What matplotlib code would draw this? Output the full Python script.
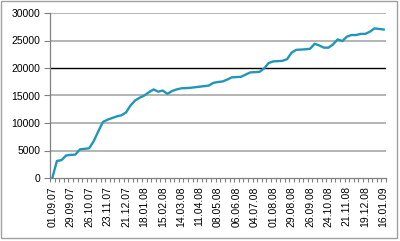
import matplotlib
matplotlib.use("Agg")
import matplotlib.pyplot as plt
from matplotlib.patches import Rectangle

# Weekly balance, one point per week (category axis), label every 4th week
tick_labels = ["01.09.07", "29.09.07", "26.10.07", "23.11.07", "21.12.07",
               "18.01.08", "15.02.08", "14.03.08", "11.04.08", "08.05.08",
               "06.06.08", "04.07.08", "01.08.08", "29.08.08", "26.09.08",
               "24.10.08", "21.11.08", "19.12.08", "16.01.09"]
values = [0, 3100, 3250, 4100, 4200, 4250, 5200, 5300, 5400, 6700,
          8500, 10200, 10600, 10900, 11200, 11400, 11900, 13200, 14100, 14600,
          15000, 15600, 16100, 15700, 15900, 15300, 15800, 16100, 16300, 16350,
          16400, 16500, 16600, 16700, 16800, 17300, 17450, 17550, 17900, 18300,
          18350, 18400, 18800, 19200, 19250, 19300, 19900, 20900, 21200, 21250,
          21300, 21600, 22800, 23300, 23350, 23400, 23500, 24400, 24100, 23700,
          23700, 24300, 25200, 24900, 25700, 26000, 26000, 26200, 26200, 26600,
          27200, 27100, 27000]
label_step = 4
yticks = [0, 5000, 10000, 15000, 20000, 25000, 30000]

plt.rcParams['font.family'] = ['Liberation Sans', 'DejaVu Sans']

fig = plt.figure(figsize=(4.0, 2.41), dpi=100)
fig.patches.append(Rectangle((0.003, 0.012), 0.99, 0.982, transform=fig.transFigure,
                             fill=False, edgecolor='#a0a0a0', linewidth=1.0))
ax = fig.add_axes([50 / 400, 1 - 178 / 241, 336 / 400, 165 / 241])

x = list(range(len(values)))
ax.plot(x, values, color='#2196b9', linewidth=1.7, solid_joinstyle='round', zorder=3)

# gridlines (20000 drawn black as in the original)
for v in yticks[1:]:
    if v == 20000:
        ax.axhline(v, color='black', linewidth=1.0, zorder=2)
    else:
        ax.axhline(v, color='#a8a8a8', linewidth=1.2, zorder=1)

ax.set_xlim(-0.5, len(values) - 0.5)
ax.set_ylim(0, 30000)
ax.set_yticks(yticks)
ax.set_yticklabels([str(v) for v in yticks], fontsize=7.5)
ax.set_xticks(x[::label_step])
ax.set_xticklabels(tick_labels, rotation=90, fontsize=7.5)
ax.set_xticks([i - 0.5 for i in range(len(values) + 1)], minor=True)

ax.tick_params(axis='y', length=4, width=0.8, color='#808080', pad=3)
ax.tick_params(axis='x', which='major', length=0, pad=6)
ax.tick_params(axis='x', which='minor', length=3, width=0.8, color='#808080')

for side in ['top', 'right']:
    ax.spines[side].set_visible(False)
for side in ['left', 'bottom']:
    ax.spines[side].set_color('#808080')
    ax.spines[side].set_linewidth(0.9)

fig.savefig("out.png", dpi=100)
